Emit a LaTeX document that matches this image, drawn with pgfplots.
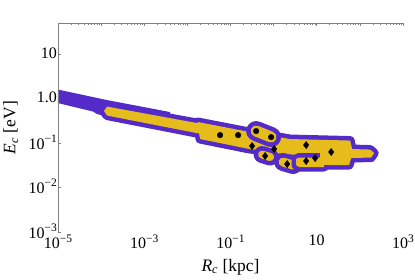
\documentclass[border=0pt]{standalone}
\usepackage{fontspec}
\setmainfont{Liberation Serif}
\usepackage{pgfplots}
\pgfplotsset{compat=1.18}
\usepackage{pgfplotstable}
\definecolor{bandpurple}{RGB}{84,42,200}
\definecolor{bandyellow}{RGB}{229,188,28}
\definecolor{framegray}{RGB}{128,128,128}
\newcommand\sups[1]{\raisebox{0.42em}{\fontsize{11.5}{12}\selectfont #1}}

% purple-only extension on the left
\pgfplotstableread{
x y
1e-5 1.593
1.370e-4 0.9254
3.968e-3 0.4972
3.968e-3 0.1767
8.03e-5 0.4484
6.49e-5 0.5104
1e-5 0.7924
}\leftband

% main band
\pgfplotstableread{
x y
1.168e-4 0.5238
1.370e-4 0.6610
1.680e-2 0.2813
1.772e-2 0.2963
0.2428 0.1813
2.414 0.1230
59.55 0.1138
66.27 0.07330
173.4 0.07142
214.7 0.05960
182.9 0.04722
62.83 0.04601
56.45 0.03203
11.99 0.03203
11.99 0.05374
3.702 0.05374
1.415 0.05808
0.2428 0.07522
1.971e-2 0.1230
1.869e-2 0.1635
1.370e-4 0.4150
}\mainband

% lower stripe of the right block
\pgfplotstableread{
x y
3.327 0.04368
3.905 0.04722
14.85 0.04722
14.85 0.02888
3.905 0.02888
3.327 0.03203
}\lowband

\pgfplotstableread{
x y
11.99 0.06116
19.40 0.06116
19.40 0.03203
11.99 0.03203
}\joinpatch

\begin{document}
\begin{tikzpicture}
\begin{axis}[
  name=ax,
  scale only axis, width=345pt, height=209pt,
  xmode=log, ymode=log,
  xmin=1e-5, xmax=1e3, ymin=1e-3, ymax=50,
  axis line style={draw=none},
  xtick={1e-5,1e-4,1e-3,1e-2,1e-1,1,10,100,1000},
  xticklabels={10\sups{−5},,10\sups{−3},,10\sups{−1},,10,,10\sups{3}},
  xtick pos=right, xticklabel pos=left,
  ytick={1e-3,1e-2,1e-1,1,10},
  yticklabels={10\sups{−3},10\sups{−2},10\sups{−1},1.0,10},
  ytick pos=left, yticklabel pos=left,
  yminorticks=false,
  tick align=inside,
  major tick length=3pt, minor tick length=1.8pt,
  tick style={framegray, line width=0.5pt},
  every tick label/.append style={font=\fontsize{16}{18}\selectfont},
  xticklabel style={yshift=1pt},
  yticklabel style={xshift=2.5pt, yshift=1pt},
  label style={font=\fontsize{17.5}{20}\selectfont},
  xlabel={\textit{R}\textsubscript{\textit{c}} [kpc]},
  ylabel={\textit{E}\textsubscript{\textit{c}} [eV]},
  xlabel style={at={(axis description cs:0.5,-0.1675)}, anchor=center},
  ylabel style={at={(axis description cs:-0.137,0.5)}, anchor=center},
]
% left purple extension
\addplot[draw=none, fill=bandpurple, no markers] table {\leftband} -- cycle;
% main band
\addplot[draw=bandpurple, fill=bandpurple, line width=9pt, line join=round, no markers] table {\mainband} -- cycle;
\addplot[draw=none, fill=bandyellow, no markers] table {\mainband} -- cycle;
% upper blob
\addplot[bandpurple, line width=20pt, line cap=round, no markers] coordinates {(0.3926,0.1861) (0.8750,0.1364)};
\addplot[bandyellow, line width=11pt, line cap=round, no markers] coordinates {(0.3926,0.1861) (0.8750,0.1364)};
% lower blob
\addplot[bandpurple, line width=17pt, line cap=round, no markers] coordinates {(0.5410,0.05515) (0.8294,0.04845)};
\addplot[bandyellow, line width=8pt, line cap=round, no markers] coordinates {(0.5410,0.05515) (0.8294,0.04845)};
% bottom blob
\addplot[bandpurple, line width=18pt, line cap=round, no markers] coordinates {(1.661,0.03741) (2.834,0.03203)};
\addplot[bandyellow, line width=9pt, line cap=round, no markers] coordinates {(1.661,0.03741) (2.834,0.03203)};
% lower stripe on the right
\addplot[draw=bandpurple, fill=bandpurple, line width=9pt, line join=round, no markers] table {\lowband} -- cycle;
\addplot[draw=none, fill=bandyellow, no markers] table {\lowband} -- cycle;
\addplot[draw=none, fill=bandyellow, no markers] table {\joinpatch} -- cycle;
% data points
\addplot[only marks, mark=*, mark size=2.8pt, black] coordinates {
(0.0574,0.151) (0.150,0.151) (0.393,0.186) (0.875,0.136)};
\addplot[only marks, mark=diamond*, mark size=3.6pt, black] coordinates {
(0.317,0.0857) (1.03,0.0733) (0.635,0.0511) (2.06,0.0337)
(5.68,0.0901) (5.68,0.0395) (9.18,0.0460) (21.6,0.0628)};
% frame: left and top only
\draw[framegray, line width=0.6pt] (rel axis cs:0,0) -- (rel axis cs:0,1) -- (rel axis cs:1,1);
\end{axis}
\pgfresetboundingbox
\path (ax.south west) ++(-58pt,-47pt) rectangle ++(415pt,279pt);
\end{tikzpicture}
\end{document}
